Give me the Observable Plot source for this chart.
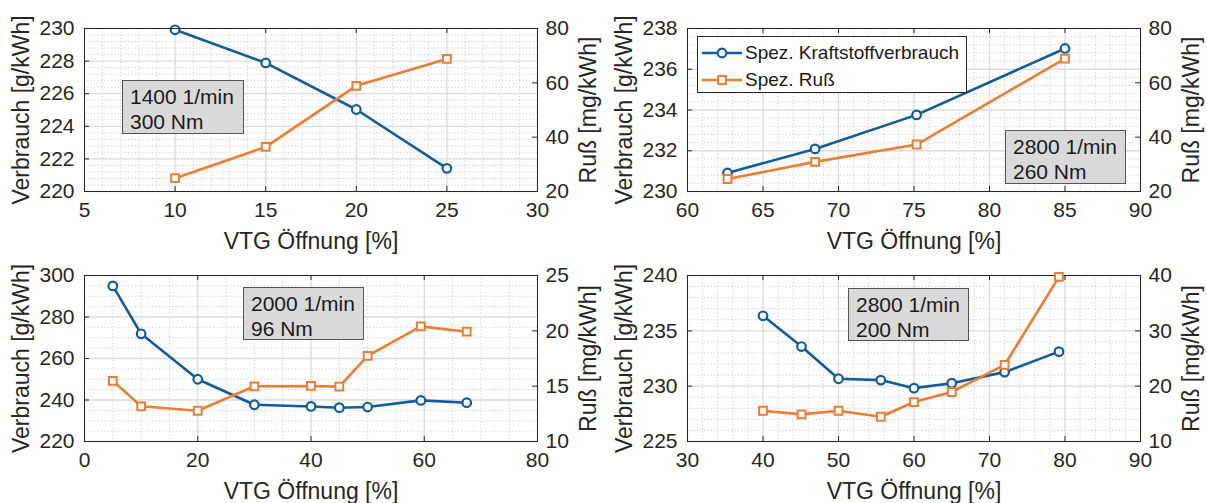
<!DOCTYPE html>
<html>
<head>
<meta charset="utf-8">
<script src="https://cdn.jsdelivr.net/npm/d3@7"></script>
<script src="https://cdn.jsdelivr.net/npm/@observablehq/plot@0.6"></script>
<style>
  body { margin: 0; background: #fff; }
  #chart {
    position: relative; width: 1207px; height: 503px; overflow: hidden; background: #fff;
    font-family: "Liberation Sans", Arial, Helvetica, sans-serif; color: #262626;
  }
  .note {
    position: absolute; box-sizing: border-box; background: #d9d9d9;
    border: 1px solid #555; font-size: 21px; line-height: 24.5px;
    padding: 4px 0 0 7px; white-space: nowrap; color: #1a1a1a;
  }
  .legend {
    position: absolute; box-sizing: border-box; background: #fff;
    border: 1px solid #262626; font-size: 19px; color: #1a1a1a;
  }
  .legend .row { position: absolute; left: 4px; display: flex; align-items: center; white-space: nowrap; }
  .legend svg { display: block; margin-right: 3px; }
</style>
</head>
<body>
<div id="chart"></div>
<script>
const FONT = '"Liberation Sans", Arial, Helvetica, sans-serif';
const INK = "#262626";
const BLUE = "#115b9f";
const ORANGE = "#ee7d31";

const seriesNames = ["Spez. Kraftstoffverbrauch", "Spez. Ruß"];
const xLabel = "VTG Öffnung [%]";
const yLeftLabel = "Verbrauch [g/kWh]";
const yRightLabel = "Ruß [mg/kWh]";

// 1400 1/min, 300 Nm
const vtg1 = [10, 15, 20, 25];
const verbrauch1 = [229.92, 227.89, 225.03, 221.42];
const russ1 = [24.9, 36.4, 58.9, 68.8];
const xTicks1 = [5, 10, 15, 20, 25, 30];
const yTicks1 = [220, 222, 224, 226, 228, 230];
const rTicks1 = [20, 40, 60, 80];

// 2800 1/min, 260 Nm
const vtg2 = [62.65, 68.45, 75.17, 85.0];
const verbrauch2 = [230.91, 232.09, 233.76, 237.02];
const russ2 = [24.6, 30.9, 37.3, 68.9];
const xTicks2 = [60, 65, 70, 75, 80, 85, 90];
const yTicks2 = [230, 232, 234, 236, 238];
const rTicks2 = [20, 40, 60, 80];

// 2000 1/min, 96 Nm
const vtg3 = [5, 10, 20, 30, 40, 45, 50, 59.4, 67.5];
const verbrauch3 = [295.0, 271.9, 250.0, 237.7, 236.9, 236.3, 236.6, 239.8, 238.7];
const russ3 = [15.48, 13.18, 12.78, 14.99, 15.02, 14.96, 17.74, 20.4, 19.92];
const xTicks3 = [0, 20, 40, 60, 80];
const yTicks3 = [220, 240, 260, 280, 300];
const rTicks3 = [10, 15, 20, 25];

// 2800 1/min, 200 Nm
const vtg4 = [40, 45.1, 50, 55.6, 60, 65, 72, 79.2];
const verbrauch4 = [236.36, 233.58, 230.67, 230.55, 229.82, 230.27, 231.27, 233.12];
const russ4 = [15.56, 14.9, 15.56, 14.47, 17.13, 18.95, 23.85, 39.76];
const xTicks4 = [30, 40, 50, 60, 70, 80, 90];
const yTicks4 = [225, 230, 235, 240];
const rTicks4 = [10, 20, 30, 40];

const notes = [["1400 1/min", "300 Nm"], ["2800 1/min", "260 Nm"], ["2000 1/min", "96 Nm"], ["2800 1/min", "200 Nm"]];

const panels = [
  {vtg: vtg1, verbrauch: verbrauch1, russ: russ1, xTicks: xTicks1, yTicks: yTicks1, rTicks: rTicks1,
   xMinor: 1, yMinor: 0.4, left: 0, top: 0, row: 0, note: notes[0], box: [122, 80, 122, 54]},
  {vtg: vtg2, verbrauch: verbrauch2, russ: russ2, xTicks: xTicks2, yTicks: yTicks2, rTicks: rTicks2,
   xMinor: 1, yMinor: 0.4, left: 603, top: 0, row: 0, note: notes[1], box: [1005, 130, 121, 54]},
  {vtg: vtg3, verbrauch: verbrauch3, russ: russ3, xTicks: xTicks3, yTicks: yTicks3, rTicks: rTicks3,
   xMinor: 5, yMinor: 5, left: 0, top: 250, row: 1, note: notes[2], box: [243, 287, 121, 53]},
  {vtg: vtg4, verbrauch: verbrauch4, russ: russ4, xTicks: xTicks4, yTicks: yTicks4, rTicks: rTicks4,
   xMinor: 2, yMinor: 1, left: 603, top: 250, row: 1, note: notes[3], box: [848, 288, 121, 53]}
];

const chart = document.getElementById("chart");

function minorTicks(ticks, step) {
  const lo = ticks[0], hi = ticks[ticks.length - 1];
  const n = Math.round((hi - lo) / step);
  return d3.range(n + 1)
    .map(i => +(lo + i * step).toFixed(6))
    .filter(v => !ticks.some(t => Math.abs(t - v) < 1e-6));
}

function drawPanel(p) {
  const W = 600, H = p.row === 0 ? 250 : 253;
  const mt = p.row === 0 ? 28 : 25, mb = p.row === 0 ? 59 : 62, ml = 84, mr = 63;
  const iw = W - ml - mr, ih = H - mt - mb;
  const xDomain = d3.extent(p.xTicks);
  const rows = p.vtg.map((x, i) => ({x, v: p.verbrauch[i], r: p.russ[i]}));
  const style = {
    position: "absolute", left: p.left + "px", top: p.top + "px",
    fontFamily: FONT, color: INK, background: "transparent", overflow: "visible"
  };

  // left axis, grid and fuel consumption
  const base = Plot.plot({
    width: W, height: H, marginLeft: ml, marginRight: mr, marginTop: mt, marginBottom: mb,
    style,
    x: {domain: xDomain},
    y: {domain: d3.extent(p.yTicks)},
    marks: [
      Plot.gridX(minorTicks(p.xTicks, p.xMinor), {stroke: "#c4c4c4", strokeOpacity: 1, strokeWidth: 0.9, strokeDasharray: "1,2.4"}),
      Plot.gridY(minorTicks(p.yTicks, p.yMinor), {stroke: "#c4c4c4", strokeOpacity: 1, strokeWidth: 0.9, strokeDasharray: "1,2.4"}),
      Plot.gridX(p.xTicks, {stroke: "#dcdcdc", strokeOpacity: 1, strokeWidth: 1.3}),
      Plot.gridY(p.yTicks, {stroke: "#dcdcdc", strokeOpacity: 1, strokeWidth: 1.3}),
      Plot.axisX(p.xTicks, {tickSize: 0, tickPadding: 11, fontSize: 21, label: null, tickFormat: d => String(d)}),
      Plot.axisY(p.yTicks, {tickSize: 0, tickPadding: 10, fontSize: 21, label: null, tickFormat: d => String(d)}),
      Plot.tickX(p.xTicks, {x: d => d, insetTop: ih - 5, stroke: INK}),
      Plot.tickX(p.xTicks, {x: d => d, insetBottom: ih - 5, stroke: INK}),
      Plot.tickY(p.yTicks, {y: d => d, insetRight: iw - 5, stroke: INK}),
      Plot.line(rows, {x: "x", y: "v", stroke: BLUE, strokeWidth: 2.6}),
      Plot.dot(rows, {x: "x", y: "v", r: 4.3, stroke: BLUE, fill: "white", strokeWidth: 2.2}),
      Plot.frame({stroke: INK, strokeWidth: 1}),
      Plot.text([xLabel], {text: d => d, frameAnchor: "bottom", dy: 50, fontSize: 23, lineAnchor: "middle", textAnchor: "middle", fill: INK}),
      Plot.text([yLeftLabel], {text: d => d, frameAnchor: "left", rotate: -90, dx: -63, fontSize: 23, lineAnchor: "middle", textAnchor: "middle", fill: INK})
    ]
  });

  // right axis and soot
  const over = Plot.plot({
    width: W, height: H, marginLeft: ml, marginRight: mr, marginTop: mt, marginBottom: mb,
    style,
    x: {domain: xDomain, axis: null},
    y: {domain: d3.extent(p.rTicks)},
    marks: [
      Plot.axisY(p.rTicks, {anchor: "right", tickSize: 0, tickPadding: 8, fontSize: 21, label: null, tickFormat: d => String(d)}),
      Plot.tickY(p.rTicks, {y: d => d, insetLeft: iw - 5, stroke: INK}),
      Plot.line(rows, {x: "x", y: "r", stroke: ORANGE, strokeWidth: 2.6}),
      Plot.dot(rows, {x: "x", y: "r", symbol: "square", r: 4.4, stroke: ORANGE, fill: "white", strokeWidth: 2}),
      Plot.text([yRightLabel], {text: d => d, frameAnchor: "right", rotate: -90, dx: 51, fontSize: 23, lineAnchor: "middle", textAnchor: "middle", fill: INK})
    ]
  });

  chart.appendChild(base);
  chart.appendChild(over);

  // operating point label
  const [bx, by, bw, bh] = p.box;
  const note = document.createElement("div");
  note.className = "note";
  Object.assign(note.style, {left: bx + "px", top: by + "px", width: bw + "px", height: bh + "px"});
  p.note.forEach(line => {
    const d = document.createElement("div");
    d.textContent = line;
    note.appendChild(d);
  });
  chart.appendChild(note);
}

panels.forEach(drawPanel);

// legend for the series
(function drawLegend() {
  const lg = d3.select(chart).append("div").attr("class", "legend")
    .style("left", "697px").style("top", "36px").style("width", "270px").style("height", "57px");
  const entries = [
    {name: seriesNames[0], color: BLUE, shape: "circle"},
    {name: seriesNames[1], color: ORANGE, shape: "square"}
  ];
  entries.forEach((e, i) => {
    const row = lg.append("div").attr("class", "row").style("top", (i === 0 ? 4 : 31) + "px").style("height", "24px");
    const svg = row.append("svg").attr("width", 40).attr("height", 16);
    svg.append("line").attr("x1", 0).attr("x2", 40).attr("y1", 8).attr("y2", 8)
      .attr("stroke", e.color).attr("stroke-width", 2.6);
    if (e.shape === "circle") {
      svg.append("circle").attr("cx", 20).attr("cy", 8).attr("r", 4.3)
        .attr("fill", "white").attr("stroke", e.color).attr("stroke-width", 2.2);
    } else {
      svg.append("rect").attr("x", 16.1).attr("y", 4.1).attr("width", 7.8).attr("height", 7.8)
        .attr("fill", "white").attr("stroke", e.color).attr("stroke-width", 2);
    }
    row.append("span").text(e.name);
  });
})();
</script>
</body>
</html>
